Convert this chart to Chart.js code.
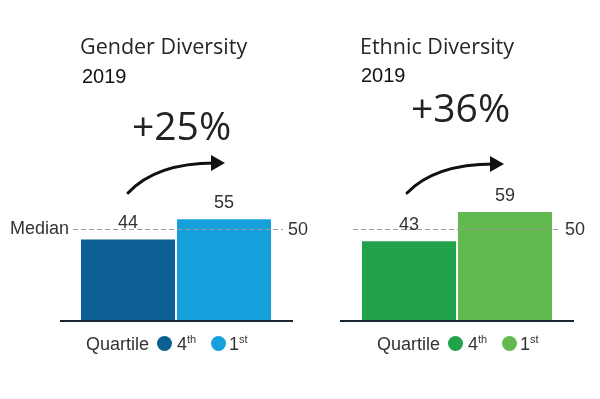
<!DOCTYPE html>
<html>
<head>
<meta charset="utf-8">
<script src="https://cdn.jsdelivr.net/npm/chart.js@4"></script>
<style>
  html, body { margin: 0; padding: 0; background: #fff; }
  #wrap { position: relative; width: 600px; height: 399px; overflow: hidden; }
  canvas { position: absolute; top: 0; left: 0; }
  .t { position: absolute; white-space: nowrap; color: #222; }
  .title { font: 21.5px "Open Sans", sans-serif; line-height: 20px; color: #262626; }
  .year { font: 20px "Liberation Sans", Arial, sans-serif; line-height: 20px; color: #111; }
  .chg { font: 39px "Open Sans", sans-serif; line-height: 38px; color: #222; }
  .leg { font: 18px "Liberation Sans", Arial, sans-serif; line-height: 18px; color: #333; }
  .leg sup { font-size: 11px; vertical-align: 7px; line-height: 0; }
  .dot { position: absolute; width: 15px; height: 15px; border-radius: 50%; }
</style>
</head>
<body>
<div id="wrap">
  <canvas id="c1" width="600" height="399"></canvas>
  <canvas id="c2" width="600" height="399"></canvas>
  <div id="overlay"></div>
</div>
<script>
// ---- data ----
const panelTitles = ['Gender Diversity', 'Ethnic Diversity'];
const panelYears = ['2019', '2019'];
const panelChanges = ['+25%', '+36%'];
const quartiles = ['4th', '1st'];
const genderValues = [44, 55];
const ethnicValues = [43, 59];
const medianValue = 50;
const medianLabel = 'Median';
const legendTitle = 'Quartile';

const genderColors = ['#0b5f92', '#16a1dd'];
const ethnicColors = ['#22a24b', '#62b94f'];

// ---- HTML text ----
const overlay = document.getElementById('overlay');
function addText(cls, html, left, top) {
  const d = document.createElement('div');
  d.className = 't ' + cls;
  d.innerHTML = html;
  d.style.left = left + 'px';
  d.style.top = top + 'px';
  overlay.appendChild(d);
  return d;
}
function addDot(color, cx, cy) {
  const d = document.createElement('div');
  d.className = 'dot';
  d.style.background = color;
  d.style.left = (cx - 7.5) + 'px';
  d.style.top = (cy - 7.5) + 'px';
  overlay.appendChild(d);
}
const layout = [
  { titleX: 80, titleY: 36, yearX: 82, yearY: 66, chgX: 132, chgY: 106, legX: 86, colors: genderColors },
  { titleX: 360, titleY: 36, yearX: 361, yearY: 65, chgX: 411, chgY: 88, legX: 377, colors: ethnicColors }
];
layout.forEach((L, i) => {
  addText('title', panelTitles[i], L.titleX, L.titleY);
  addText('year', panelYears[i], L.yearX, L.yearY);
  addText('chg', panelChanges[i], L.chgX, L.chgY);
  addText('leg', legendTitle, L.legX, 335);
  addDot(L.colors[0], L.legX + 78, 343);
  addText('leg', quartiles[0].replace(/(\d)(\D+)/, '$1<sup>$2</sup>'), L.legX + 91, 335);
  addDot(L.colors[1], L.legX + 132, 343);
  addText('leg', quartiles[1].replace(/(\d)(\D+)/, '$1<sup>$2</sup>'), L.legX + 143, 335);
});

// ---- decorations plugin ----
const decor = {
  id: 'decor',
  afterDatasetsDraw(chart, args, opts) {
    const ctx = chart.ctx;
    const y = chart.scales.y;
    const meta = chart.getDatasetMeta(0);
    const my = Math.round(y.getPixelForValue(medianValue)) + 0.5;
    ctx.save();
    // median dashed line
    ctx.strokeStyle = '#9a9a9a';
    ctx.lineWidth = 1;
    ctx.setLineDash([5, 3]);
    ctx.beginPath();
    ctx.moveTo(opts.dashFrom, my);
    ctx.lineTo(opts.dashTo, my);
    ctx.stroke();
    ctx.setLineDash([]);
    // 50 label
    ctx.fillStyle = '#333';
    ctx.font = '18px "Liberation Sans", Arial, sans-serif';
    ctx.textBaseline = 'middle';
    ctx.textAlign = 'left';
    ctx.fillText(String(medianValue), opts.dashTo + 5, my + 1);
    if (opts.showMedian) {
      ctx.textAlign = 'right';
      ctx.fillText(medianLabel, opts.dashFrom - 4, my);
    }
    // value labels
    ctx.textAlign = 'center';
    ctx.textBaseline = 'alphabetic';
    meta.data.forEach((bar, i) => {
      const v = chart.data.datasets[0].data[i];
      ctx.fillText(String(v), bar.x, bar.y - 11);
    });
    // baseline axis
    const by = y.getPixelForValue(0);
    ctx.strokeStyle = '#1b2631';
    ctx.lineWidth = 2;
    ctx.beginPath();
    ctx.moveTo(opts.axisFrom, by + 1);
    ctx.lineTo(opts.axisTo, by + 1);
    ctx.stroke();
    // curved arrow
    const a = opts.arrow;
    ctx.strokeStyle = '#111';
    ctx.fillStyle = '#111';
    ctx.lineWidth = 3;
    ctx.lineCap = 'round';
    ctx.beginPath();
    ctx.moveTo(a[0], a[1]);
    ctx.quadraticCurveTo(a[2], a[3], a[4], a[5]);
    ctx.stroke();
    ctx.beginPath();
    ctx.moveTo(a[4] + 10, a[5]);
    ctx.lineTo(a[4] - 4, a[5] - 8);
    ctx.lineTo(a[4] - 4, a[5] + 8);
    ctx.closePath();
    ctx.fill();
    ctx.restore();
  }
};

function makeChart(id, values, colors, pad, decoOpts) {
  return new Chart(document.getElementById(id), {
    type: 'bar',
    data: {
      labels: quartiles,
      datasets: [{ data: values, backgroundColor: colors, borderWidth: 0,
                   barPercentage: 0.98, categoryPercentage: 1 }]
    },
    options: {
      responsive: false,
      animation: false,
      devicePixelRatio: 1,
      layout: { padding: pad },
      plugins: { legend: { display: false }, tooltip: { enabled: false }, decor: decoOpts },
      scales: {
        x: { display: false },
        y: { display: false, min: 0, max: 100 }
      }
    },
    plugins: [decor]
  });
}

makeChart('c1', genderValues, genderColors,
  { left: 80, right: 328, top: 137, bottom: 79 },
  { dashFrom: 73, dashTo: 283, showMedian: true, axisFrom: 60, axisTo: 293,
    arrow: [128, 193, 156, 163, 215, 163] });
makeChart('c2', ethnicValues, ethnicColors,
  { left: 361, right: 47, top: 137, bottom: 79 },
  { dashFrom: 353, dashTo: 560, showMedian: false, axisFrom: 340, axisTo: 574,
    arrow: [407, 193, 435, 164, 494, 164] });
</script>
</body>
</html>
